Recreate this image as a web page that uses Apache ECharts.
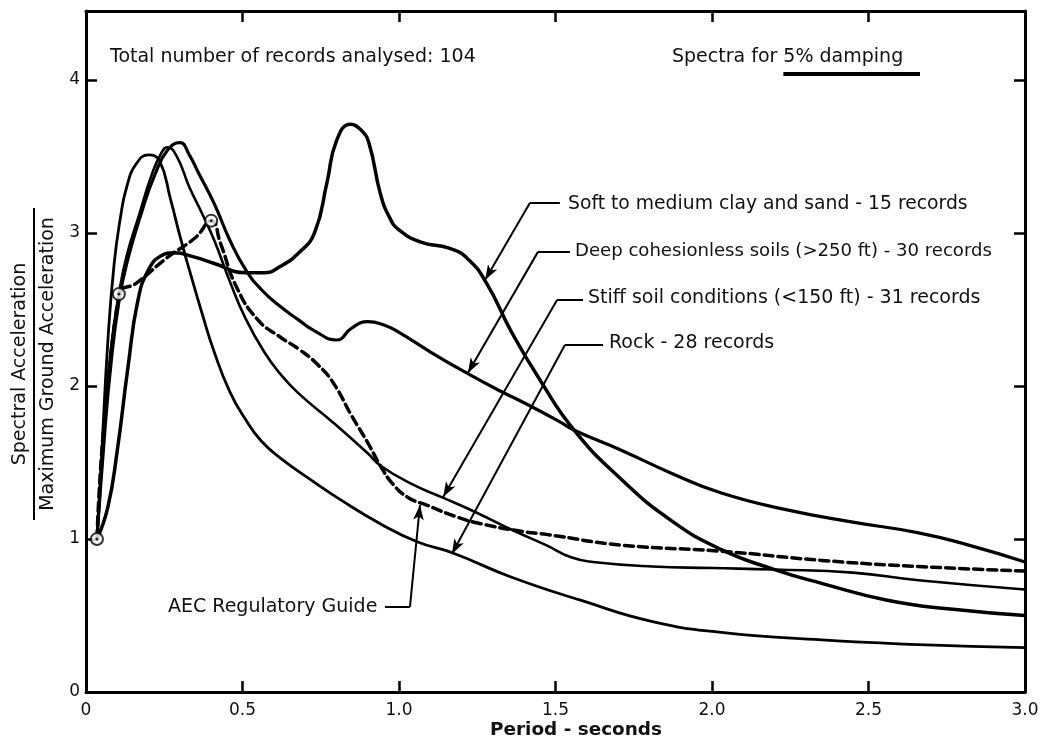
<!DOCTYPE html>
<html><head><meta charset="utf-8">
<script src="https://cdn.jsdelivr.net/npm/echarts@6/dist/echarts.min.js"></script>
<style>html,body{margin:0;padding:0;background:#fff;}#c{width:1052px;height:740px;}</style>
</head><body><div id="c"></div>
<script>
// ---- tick labels ----
const xTickLabels = ['0', '0.5', '1.0', '1.5', '2.0', '2.5', '3.0'];
const yTickLabels = ['0', '1', '2', '3', '4'];

// ---- series values (period s, Sa / max ground acc) ----
const softName = 'Soft to medium clay and sand - 15 records';
const softX = [0.035,0.07,0.10,0.134,0.166,0.20,0.24,0.28,0.35,0.41,0.51,0.57,0.62,0.68,0.73,0.77,0.80,0.845,0.88,0.905,0.94,0.97,1.00,1.07,1.16,1.22,1.28,1.36,1.45,1.56,1.71,1.87,2.03,2.20,2.35,2.56,2.77,3.00];
const softY = [1.00,1.21,1.58,2.12,2.56,2.76,2.85,2.87,2.84,2.80,2.74,2.74,2.78,2.87,3.00,3.33,3.60,3.71,3.67,3.58,3.26,3.10,3.02,2.94,2.90,2.83,2.67,2.35,2.04,1.71,1.39,1.12,0.93,0.80,0.71,0.60,0.54,0.50];

const deepName = 'Deep cohesionless soils (>250 ft) - 30 records';
const deepX = [0.035,0.06,0.08,0.105,0.13,0.18,0.22,0.26,0.30,0.33,0.36,0.41,0.46,0.51,0.56,0.62,0.68,0.73,0.80,0.85,0.90,0.95,1.00,1.11,1.22,1.32,1.39,1.51,1.56,1.71,1.87,2.03,2.24,2.45,2.66,2.82,3.00];
const deepY = [1.00,1.70,2.15,2.55,2.80,3.15,3.38,3.54,3.59,3.51,3.39,3.19,2.95,2.76,2.63,2.52,2.43,2.36,2.30,2.38,2.42,2.40,2.35,2.21,2.08,1.97,1.90,1.77,1.71,1.58,1.43,1.30,1.19,1.11,1.04,0.96,0.85];

const stiffName = 'Stiff soil conditions (<150 ft) - 31 records';
const stiffX = [0.035,0.06,0.08,0.105,0.13,0.17,0.21,0.24,0.26,0.29,0.33,0.37,0.41,0.46,0.51,0.57,0.62,0.68,0.79,0.90,0.94,1.04,1.14,1.25,1.36,1.47,1.55,1.62,1.81,2.00,2.20,2.45,2.66,3.00];
const stiffY = [1.00,1.75,2.25,2.60,2.85,3.12,3.38,3.52,3.56,3.50,3.30,3.13,2.95,2.68,2.44,2.22,2.08,1.95,1.76,1.56,1.48,1.36,1.27,1.17,1.06,0.96,0.88,0.85,0.82,0.81,0.80,0.78,0.73,0.67];

const rockName = 'Rock - 28 records';
const rockX = [0.035,0.05,0.07,0.09,0.11,0.13,0.16,0.20,0.235,0.27,0.30,0.33,0.37,0.41,0.46,0.51,0.56,0.62,0.73,0.81,0.94,1.06,1.17,1.36,1.58,1.81,2.03,2.35,2.66,3.00];
const rockY = [1.00,1.55,2.30,2.80,3.10,3.30,3.45,3.51,3.47,3.22,2.98,2.76,2.48,2.22,1.96,1.78,1.64,1.53,1.37,1.26,1.10,0.98,0.91,0.75,0.60,0.46,0.39,0.34,0.31,0.29];

const aecName = 'AEC Regulatory Guide';
const aecX = [0.035,0.105,0.16,0.26,0.35,0.40,0.43,0.48,0.55,0.62,0.68,0.74,0.79,0.85,0.90,0.94,0.98,1.03,1.09,1.19,1.26,1.39,1.47,1.71,2.03,2.35,2.66,3.00];
const aecY = [1.00,2.60,2.67,2.84,2.97,3.08,2.93,2.65,2.43,2.32,2.24,2.14,2.02,1.80,1.63,1.48,1.36,1.27,1.22,1.14,1.10,1.05,1.03,0.96,0.92,0.86,0.82,0.79];
// AEC control points (circles)
const aecCtrlX = [0.035, 0.105, 0.40];
const aecCtrlY = [1.00, 2.60, 3.08];

// ---- annotation leaders (data coordinates) ----
const leaders = [
  {elbow:[1.418,3.196], end:[1.514,3.196], tip:[1.275,2.693]},
  {elbow:[1.444,2.876], end:[1.546,2.876], tip:[1.220,2.085]},
  {elbow:[1.505,2.562], end:[1.588,2.562], tip:[1.141,1.275]},
  {elbow:[1.530,2.268], end:[1.652,2.268], tip:[1.169,0.902]},
  {elbow:[1.035,0.556], end:[0.955,0.556], tip:[1.067,1.222]}
];

const FAM = "'DejaVu Sans', sans-serif";
const mctx = document.createElement('canvas').getContext('2d');
function fit(text, width, weight) {
  mctx.font = (weight || 'normal') + ' 20px ' + FAM;
  return Math.min(19, 20 * width / mctx.measureText(text).width);
}
function textW(text, size, weight) {
  mctx.font = (weight || 'normal') + ' ' + size + 'px ' + FAM;
  return mctx.measureText(text).width;
}

const labelBoxes = [
  {t:'Total number of records analysed: 104', x0:110, x1:497, y:57},
  {t:softName, x0:568, x1:968, y:204},
  {t:deepName, x0:575, x1:992, y:251},
  {t:stiffName, x0:588, x1:990, y:298},
  {t:rockName, x0:609, x1:788, y:343},
  {t:aecName, x0:168, x1:380, y:607}
];

const graphics = [];
labelBoxes.forEach(b => {
  const s = fit(b.t, b.x1 - b.x0);
  graphics.push({type:'text', x:b.x0, y:b.y, style:{text:b.t, font:'normal ' + s.toFixed(2) + 'px ' + FAM, fill:'#111', align:'left', verticalAlign:'middle'}});
});
(function(){
  const t = 'Spectra for 5% damping', x0 = 672, x1 = 908;
  const s = fit(t, x1 - x0);
  graphics.push({type:'text', x:x0, y:57, style:{text:t, font:'normal ' + s.toFixed(2) + 'px ' + FAM, fill:'#111', align:'left', verticalAlign:'middle'}});
  const u0 = x0 + textW('Spectra for ', s);
  graphics.push({type:'line', shape:{x1:u0, y1:74, x2:x1 + 12, y2:74}, style:{stroke:'#000', lineWidth:4}});
})();
(function(){
  const t1 = 'Spectral Acceleration', t2 = 'Maximum Ground Acceleration';
  const s1 = fit(t1, 232), s2 = fit(t2, 300);
  graphics.push({type:'text', x:20, y:364, rotation:Math.PI/2, style:{text:t1, font:'normal ' + s1.toFixed(2) + 'px ' + FAM, fill:'#111', align:'center', verticalAlign:'middle'}});
  graphics.push({type:'line', shape:{x1:34, y1:208, x2:34, y2:520}, style:{stroke:'#000', lineWidth:2}});
  graphics.push({type:'text', x:48, y:364, rotation:Math.PI/2, style:{text:t2, font:'normal ' + s2.toFixed(2) + 'px ' + FAM, fill:'#111', align:'center', verticalAlign:'middle'}});
})();
(function(){
  const t = 'Period - seconds';
  const s = fit(t, 172, 'bold');
  graphics.push({type:'text', x:576, y:730, style:{text:t, font:'bold ' + s.toFixed(2) + 'px ' + FAM, fill:'#111', align:'center', verticalAlign:'middle'}});
})();

function pts(xs, ys) { return xs.map((x, i) => [x, ys[i]]); }
function curve(name, xs, ys, width, dashed) {
  return {name, type:'line', data:pts(xs, ys), showSymbol:false, smooth:0.5, silent:true,
    lineStyle:{color:'#000', width:width, type: dashed ? [9,5] : 'solid', cap:'round', join:'round'}, z: 3};
}

const markData = [];
leaders.forEach(l => {
  markData.push([{coord:l.end, symbol:'none'}, {coord:l.elbow, symbol:'none'}]);
  markData.push([{coord:l.elbow, symbol:'none'}, {coord:l.tip, symbol:'arrow', symbolSize:[8,15]}]);
});

const axisLineStyle = {color:'#000', width:3};
const tickStyle = {show:true, inside:true, length:11, lineStyle:{color:'#000', width:2.5}};
const option = {
  animation:false,
  backgroundColor:'#fff',
  grid:{left:86, right:27, top:11, bottom:48, show:false},
  xAxis:[
    {type:'value', min:0, max:3, interval:0.5, position:'bottom',
      axisLine:{show:true, onZero:false, lineStyle:axisLineStyle}, axisTick:tickStyle, splitLine:{show:false},
      axisLabel:{color:'#111', fontSize:17, fontFamily:FAM, margin:10,
        formatter: v => { const i = Math.round(v / 0.5); return Math.abs(v - i*0.5) < 1e-6 ? (xTickLabels[i] || '') : ''; }}},
    {type:'value', min:0, max:3, interval:0.5, position:'top',
      axisLine:{show:true, onZero:false, lineStyle:axisLineStyle}, axisTick:tickStyle, splitLine:{show:false}, axisLabel:{show:false}}
  ],
  yAxis:[
    {type:'value', min:0, max:4.45, interval:1, position:'left',
      axisLine:{show:true, onZero:false, lineStyle:axisLineStyle}, axisTick:tickStyle, splitLine:{show:false},
      axisLabel:{color:'#111', fontSize:17, fontFamily:FAM, margin:6, showMaxLabel:false,
        formatter: v => { const i = Math.round(v); return Math.abs(v - i) < 1e-6 ? (yTickLabels[i] || '') : ''; }}},
    {type:'value', min:0, max:4.45, interval:1, position:'right',
      axisLine:{show:true, onZero:false, lineStyle:axisLineStyle}, axisTick:tickStyle, splitLine:{show:false}, axisLabel:{show:false}}
  ],
  series:[
    curve(softName, softX, softY, 3.5),
    curve(deepName, deepX, deepY, 3.2),
    curve(stiffName, stiffX, stiffY, 2.6),
    curve(rockName, rockX, rockY, 2.8),
    curve(aecName, aecX, aecY, 3.5, true),
    {name:'AEC control points', type:'scatter', data:pts(aecCtrlX, aecCtrlY), symbol:'circle', symbolSize:12, silent:true, z:5,
      itemStyle:{color:'#fff', borderColor:'#000', borderWidth:2}},
    {name:'AEC control centers', type:'scatter', data:pts(aecCtrlX, aecCtrlY), symbol:'circle', symbolSize:3, silent:true, z:6,
      itemStyle:{color:'#000'}},
    {name:'leaders', type:'line', data:[], silent:true,
      markLine:{silent:true, animation:false, label:{show:false}, lineStyle:{color:'#000', width:2, type:'solid'}, data:markData}}
  ],
  graphic: graphics
};
const chart = echarts.init(document.getElementById('c'), null, {renderer:'canvas'});
chart.setOption(option);
</script>
</body></html>
